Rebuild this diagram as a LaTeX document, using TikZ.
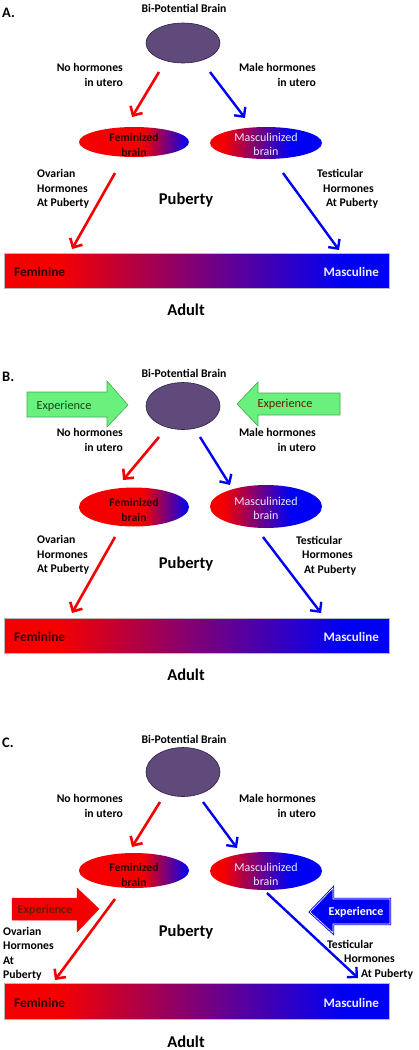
\documentclass[tikz,border=0pt]{standalone}
\usepackage{fontspec}
\setmainfont{Carlito}
\usetikzlibrary{arrows.meta,shapes.geometric}
\definecolor{cRed}{RGB}{245,0,0}
\definecolor{cBlue}{RGB}{0,0,245}
\definecolor{cPurple}{RGB}{96,74,123}
\definecolor{cPurpleEdge}{RGB}{45,35,65}
\definecolor{cGreen}{RGB}{105,240,125}
\definecolor{cGreenEdge}{RGB}{70,170,85}
\definecolor{cDkGreen}{RGB}{25,70,25}
\definecolor{cDkRed}{RGB}{110,25,0}
\definecolor{cFem}{RGB}{45,0,0}
\definecolor{cMasc}{RGB}{235,235,255}
\pgfdeclarehorizontalshading{femshade}{100bp}{color(0bp)=(cRed); color(54bp)=(cRed); color(75bp)=(cBlue); color(100bp)=(cBlue)}
\pgfdeclarehorizontalshading{mascshade}{100bp}{color(0bp)=(cRed); color(31bp)=(cRed); color(61bp)=(cBlue); color(100bp)=(cBlue)}
\pgfdeclarehorizontalshading{barshade}{100bp}{color(0bp)=(cRed); color(32bp)=(cRed); color(69bp)=(cBlue); color(100bp)=(cBlue)}
\tikzset{
  lbl/.style={font=\bfseries\fontsize{11.7}{14.5}\selectfont, inner sep=0pt},
  panel/.style={font=\bfseries\fontsize{14.5}{16}\selectfont, inner sep=0pt, anchor=west},
  stage/.style={font=\bfseries\fontsize{16.5}{19}\selectfont, inner sep=0pt},
  bp/.style={ellipse, fill=cPurple, draw=cPurpleEdge, line width=0.6pt, minimum width=74pt, inner sep=0pt},
  fem/.style={ellipse, shade, shading=femshade, minimum width=110pt, inner sep=0pt},
  masc/.style={ellipse, shade, shading=mascshade, minimum width=112pt, inner sep=0pt},
  femtxt/.style={lbl, align=center, text=cFem},
  masctxt/.style={font=\fontsize{12}{14}\selectfont, inner sep=0pt, align=center, text=cMasc},
  barnode/.style={rectangle, shade, shading=barshade, draw=gray!55, line width=0.5pt, minimum width=385pt, minimum height=35pt, inner sep=0pt},
  femlbl/.style={font=\bfseries\fontsize{13.3}{14}\selectfont, inner sep=0pt, anchor=west, text=cFem},
  masclbl/.style={font=\bfseries\fontsize{13}{14}\selectfont, inner sep=0pt, anchor=east, text=cMasc},
  redarrow/.style={draw=cRed, line width=2.6pt, -{Straight Barb[length=7pt,width=14pt]}},
  bluearrow/.style={draw=cBlue, line width=2.4pt, -{Straight Barb[length=7pt,width=14pt]}},
  greenexp/.style={fill=cGreen, draw=cGreenEdge, line width=0.6pt},
  expgreen/.style={font=\fontsize{12.3}{14}\selectfont, inner sep=0pt},
  expbold/.style={font=\bfseries\fontsize{12}{14}\selectfont, inner sep=0pt}
}
\begin{document}
\begin{tikzpicture}[x=1pt, y=-1pt]
\useasboundingbox (0,0) rectangle (419,1050);
\fill[white] (0,0) rectangle (419,1050);

% ================= Panel A =================
\node[panel] (pA) at (2,13) {A.};
\node[lbl] (tA) at (184,8) {Bi-Potential Brain};
\node[bp, minimum height=40pt] (bA) at (183,43) {};
\node[lbl, align=right, anchor=east] (nA) at (123,75) {No hormones\\in utero};
\node[lbl, align=right, anchor=east] (mA) at (316,75) {Male hormones\\in utero};
\node[fem, minimum height=30pt] (fA) at (134,142) {};
\node[femtxt] (fAt) at (134,145) {Feminized\\brain};
\node[masc, minimum height=32pt] (sA) at (266,143) {};
\node[masctxt] (sAt) at (266,144) {Masculinized\\brain};
\coordinate (ra1) at (159,72); \coordinate (ra2) at (132,117);
\coordinate (ba1) at (210,72); \coordinate (ba2) at (245,118);
\draw[redarrow] (ra1) -- (ra2);
\draw[bluearrow] (ba1) -- (ba2);
\node[lbl, align=left, anchor=west] (oA) at (37,189) {Ovarian\\Hormones\\At Puberty};
\node[lbl, align=left, anchor=west] (kA) at (317,189) {Testicular\\\hspace*{6pt}Hormones\\\hspace*{9pt}At Puberty};
\coordinate (ra3) at (115,173); \coordinate (ra4) at (72,249);
\coordinate (ba3) at (283,173); \coordinate (ba4) at (339,250);
\draw[redarrow] (ra3) -- (ra4);
\draw[bluearrow] (ba3) -- (ba4);
\node[stage] (puA) at (186,200) {Puberty};
\node[barnode] (barA) at (196.5,270.5) {};
\node[femlbl] (feA) at (14,272) {Feminine};
\node[masclbl] (maA) at (379,272) {Masculine};
\node[stage] (adA) at (186,310) {Adult};

% ================= Panel B =================
\node[panel] (pB) at (2,377) {B.};
\node[lbl] (tB) at (184,373) {Bi-Potential Brain};
\node[bp, minimum height=47pt] (bB) at (183,406) {};
\draw[greenexp] (27,392) -- (107,392) -- (107,381) -- (128,405) -- (107,427) -- (107,417) -- (27,417) -- cycle;
\node[expgreen, text=cDkGreen] (eBl) at (64,406) {Experience};
\draw[greenexp] (340,393) -- (258,393) -- (258,382) -- (237,404) -- (258,426) -- (258,415) -- (340,415) -- cycle;
\node[expgreen, text=cDkRed] (eBr) at (285,404) {Experience};
\node[lbl, align=right, anchor=east] (nB) at (123,440) {No hormones\\in utero};
\node[lbl, align=right, anchor=east] (mB) at (316,440) {Male hormones\\in utero};
\node[fem, minimum height=39pt] (fB) at (134,507) {};
\node[femtxt] (fBt) at (134,510) {Feminized\\brain};
\node[masc, minimum height=43pt] (sB) at (266,506.5) {};
\node[masctxt] (sBt) at (266,508) {Masculinized\\brain};
\coordinate (rb1) at (159,437); \coordinate (rb2) at (123,480);
\coordinate (bb1) at (200,437); \coordinate (bb2) at (230,485);
\draw[redarrow] (rb1) -- (rb2);
\draw[bluearrow] (bb1) -- (bb2);
\node[lbl, align=left, anchor=west] (oB) at (37,555) {Ovarian\\Hormones\\At Puberty};
\node[lbl, align=left, anchor=west] (kB) at (296,555.5) {Testicular\\\hspace*{6pt}Hormones\\\hspace*{8pt}At Puberty};
\coordinate (rb3) at (115,537); \coordinate (rb4) at (72,613);
\coordinate (bb3) at (263,537); \coordinate (bb4) at (321,613);
\draw[redarrow] (rb3) -- (rb4);
\draw[bluearrow] (bb3) -- (bb4);
\node[stage] (puB) at (186,564) {Puberty};
\node[barnode] (barB) at (196.5,635.5) {};
\node[femlbl] (feB) at (14,637) {Feminine};
\node[masclbl] (maB) at (379,637) {Masculine};
\node[stage] (adB) at (186,675) {Adult};

% ================= Panel C =================
\node[panel] (pC) at (2,743) {C.};
\node[lbl] (tC) at (184,739) {Bi-Potential Brain};
\node[bp, minimum height=49pt] (bC) at (183,772) {};
\node[lbl, align=right, anchor=east] (nC) at (123,806) {No hormones\\in utero};
\node[lbl, align=right, anchor=east] (mC) at (316,806) {Male hormones\\in utero};
\node[fem, minimum height=35pt] (fC) at (134,870.5) {};
\node[femtxt] (fCt) at (134,875) {Feminized\\brain};
\node[masc, minimum height=38pt] (sC) at (266,871) {};
\node[masctxt] (sCt) at (266,874) {Masculinized\\brain};
\coordinate (rc1) at (160,802); \coordinate (rc2) at (132,847);
\coordinate (bc1) at (203,802); \coordinate (bc2) at (237,848);
\draw[redarrow] (rc1) -- (rc2);
\draw[bluearrow] (bc1) -- (bc2);
\draw[fill=cRed, draw=cRed, line width=0.5pt] (12,898) -- (77,898) -- (77,888) -- (99,909) -- (77,932) -- (77,920) -- (12,920) -- cycle;
\node[expbold, text=cDkRed] (eCl) at (45,910) {Experience};
\draw[fill=cBlue, draw=cBlue, line width=0.9pt, double=white, double distance=0.6pt] (390,899) -- (333,899) -- (333,888) -- (310,912) -- (333,933) -- (333,924) -- (390,924) -- cycle;
\node[expbold, text=white] (eCr) at (356,912) {Experience};
\node[lbl, align=left, anchor=west] (oC) at (3,954) {Ovarian\\Hormones\\At\\Puberty};
\node[lbl, align=left, anchor=west] (kC) at (327,959.5) {Testicular\\\hspace*{17pt}Hormones\\\hspace*{34pt}At Puberty};
\coordinate (rc3) at (115,899); \coordinate (rc4) at (55,980);
\coordinate (bc3) at (267,893); \coordinate (bc4) at (358,978);
\draw[redarrow] (rc3) -- (rc4);
\draw[bluearrow] (bc3) -- (bc4);
\node[stage] (puC) at (186,932) {Puberty};
\node[barnode, minimum height=36pt] (barC) at (196.5,1001) {};
\node[femlbl] (feC) at (14,1003) {Feminine};
\node[masclbl] (maC) at (379,1003) {Masculine};
\node[stage] (adC) at (186,1042) {Adult};
\end{tikzpicture}
\end{document}
